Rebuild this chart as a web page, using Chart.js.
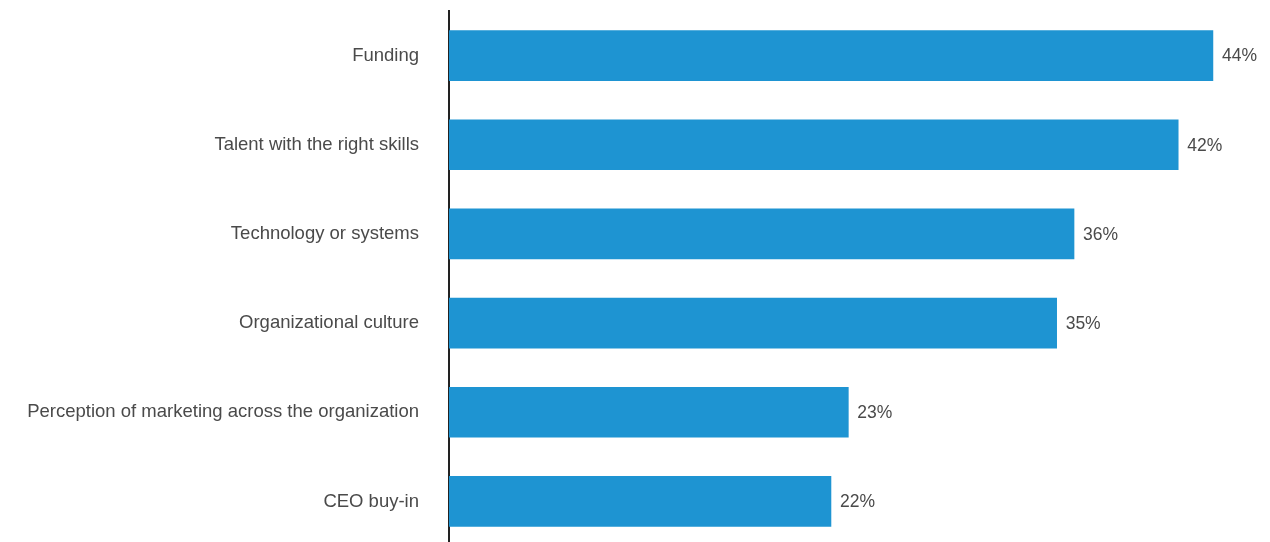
<!DOCTYPE html>
<html>
<head>
<meta charset="utf-8">
<script src="https://cdn.jsdelivr.net/npm/chart.js@4/dist/chart.umd.min.js"></script>
<style>
  html, body { margin: 0; padding: 0; background: #fff; }
  .frame { width: 1270px; height: 542px; overflow: hidden; }
</style>
</head>
<body>
<div class="frame">
  <canvas id="chartObstacles" width="1270" height="546"></canvas>
</div>
<script>
const categories = [
  "Funding",
  "Talent with the right skills",
  "Technology or systems",
  "Organizational culture",
  "Perception of marketing across the organization",
  "CEO buy-in"
];
const shares = [44, 42, 36, 35, 23, 22];

const colors = {
  bar: "#1e94d2",
  text: "#4a4a4a",
  axis: "#222222"
};
const labelFont = { family: "Liberation Sans", size: 18.5, weight: "normal" };
const valueFont = "normal 17.5px 'Liberation Sans'";

// value labels to the right of each bar
const barValuePlugin = {
  id: "barValues",
  afterDatasetsDraw(chart) {
    const { ctx } = chart;
    const meta = chart.getDatasetMeta(0);
    ctx.save();
    ctx.fillStyle = colors.text;
    ctx.font = valueFont;
    ctx.textAlign = "left";
    ctx.textBaseline = "middle";
    meta.data.forEach((bar, i) => {
      ctx.fillText(`${shares[i]}%`, bar.x + 9, bar.y + 1);
    });
    ctx.restore();
  }
};

new Chart(document.getElementById("chartObstacles"), {
  type: "bar",
  data: {
    labels: categories,
    datasets: [{
      data: shares,
      backgroundColor: colors.bar,
      barThickness: 50
    }]
  },
  plugins: [barValuePlugin],
  options: {
    indexAxis: "y",
    responsive: false,
    animation: false,
    layout: { padding: { top: 11, right: 5, bottom: 0, left: 0 } },
    plugins: {
      legend: { display: false },
      tooltip: { enabled: false }
    },
    scales: {
      x: {
        display: false,
        min: 0,
        max: 47
      },
      y: {
        afterFit(scale) {
          scale.width = 449;
          // tick padding would otherwise also pad the axis top and bottom
          scale.paddingTop = 0;
          scale.paddingBottom = 0;
        },
        grid: { display: false, drawTicks: false },
        border: { display: true, color: colors.axis, width: 2 },
        ticks: {
          color: colors.text,
          padding: 30,
          font: labelFont
        }
      }
    }
  }
});
</script>
</body>
</html>
